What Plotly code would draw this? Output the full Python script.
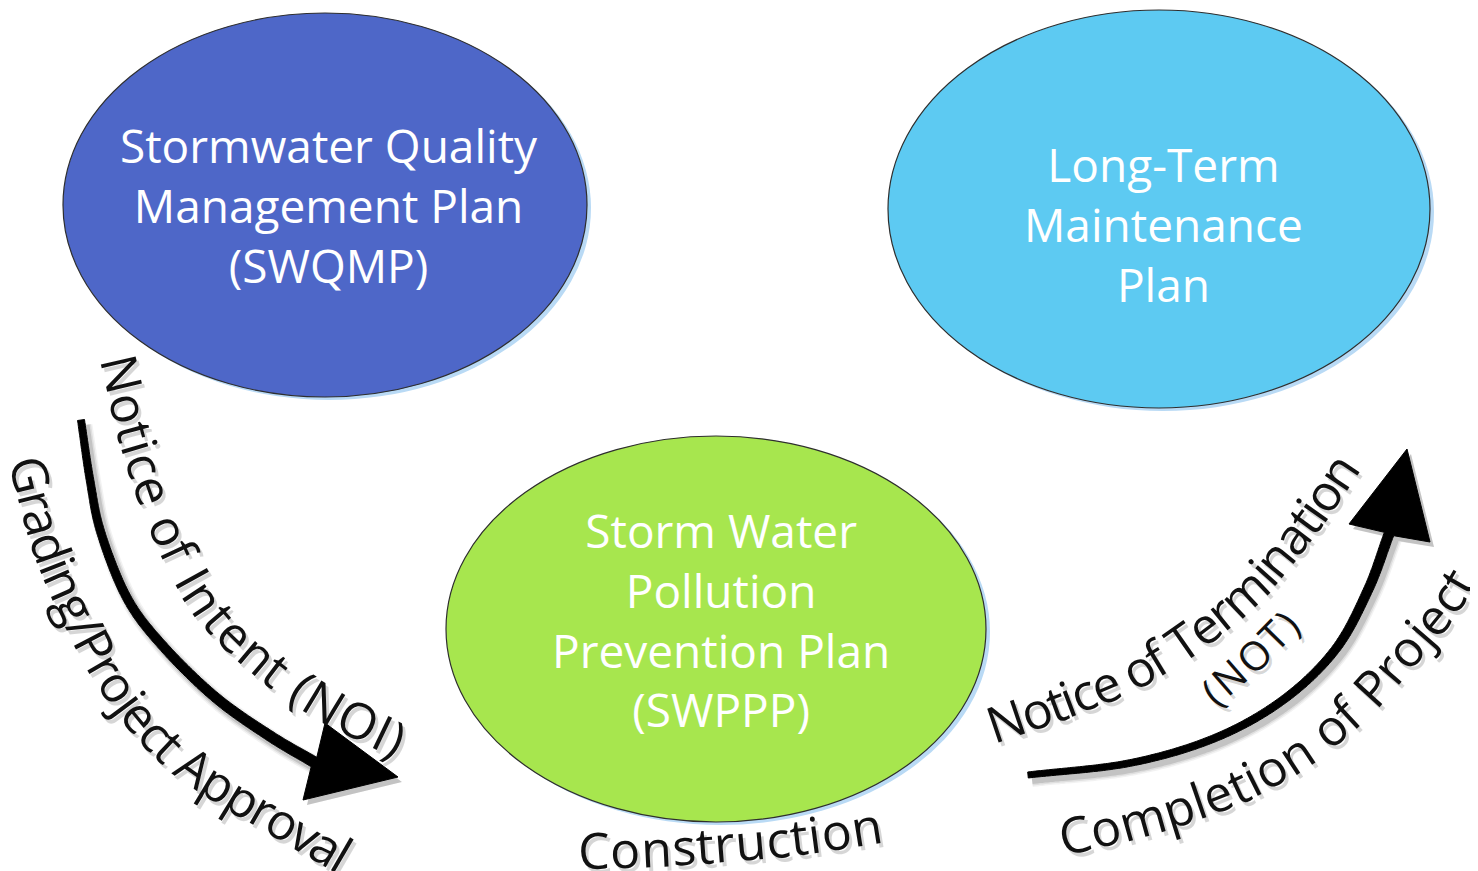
import glob
import math
import os
import struct

import numpy as np
import plotly.graph_objects as go

# ---------------- data (labels / categories) ----------------
plan_labels = [
    "Stormwater Quality<br>Management Plan<br>(SWQMP)",
    "Long-Term<br>Maintenance<br>Plan",
    "Storm Water<br>Pollution<br>Prevention Plan<br>(SWPPP)",
]
plan_colors = ["#4E67C8", "#5DCAF2", "#A7E64E"]

step_labels = [
    "Notice of Intent (NOI)",
    "Grading/Project Approval",
    "Construction",
    "Notice of Termination",
    "(NOT)",
    "Completion of Project",
]

# ---------------- geometry (page pixels) ----------------
W, H = 1478, 871
OFF = 8  # body margin of the html page
plan_centers = [(325, 205), (1159, 209), (716, 629)]
plan_radii = [(262, 192), (271, 199), (270, 193)]
plan_text_pos = [(329, 205), (1163, 224), (721, 619)]

step_paths = [
    [(118, 356), (140, 445), (170, 530), (210, 605), (265, 660), (330, 705), (403, 742)],
    [(27, 457), (49, 540), (79, 612), (122, 690), (176, 752), (240, 795), (300, 830), (348, 858)],
    [(578, 850), (650, 848), (730, 843), (810, 835), (882, 824)],
    [(988, 726), (1060, 701), (1130, 672), (1190, 635), (1250, 585), (1300, 525), (1346, 458)],
    [(1207, 696), (1250, 658), (1291, 617)],
    [(1060, 838), (1148, 816), (1228, 789), (1298, 751), (1357, 702), (1405, 648), (1440, 606), (1461, 572)],
]
step_sizes = [50, 50, 50, 50, 40, 50]

arrow_shafts = [
    [(81, 420), (90, 480), (101, 533), (127, 598), (162, 645), (215, 697), (270, 736), (314, 762)],
    [(1028, 775), (1130, 763), (1215, 738), (1283, 700), (1335, 650), (1368, 590), (1389, 534)],
]
arrow_heads = [
    [(325, 723), (398, 777), (303, 800)],
    [(1349, 524), (1407, 449), (1430, 542)],
]
arrow_width = [(7, 11), (6, 10)]

FONT = "Open Sans"

# ---------------- font metrics (read from installed Open Sans) ----------------
FALLBACK = {
    "N": .748, "o": .602, "t": .361, "i": .258, "c": .479, "e": .561, " ": .26,
    "f": .336, "I": .279, "n": .613, "(": .296, ")": .296, "O": .779, "G": .694,
    "r": .408, "a": .556, "d": .613, "g": .546, "/": .369, "P": .603, "j": .258,
    "A": .633, "p": .613, "v": .500, "l": .258, "C": .631, "s": .477, "u": .613,
    "T": .553, "m": .933, "M": .907,
}


def load_advance():
    cands = []
    for root in ["/usr/share/fonts", "/usr/local/share/fonts", os.path.expanduser("~/.fonts")]:
        cands += glob.glob(os.path.join(root, "**", "*.ttf"), recursive=True)
    cands = [c for c in cands if "opensans" in os.path.basename(c).lower().replace("-", "").replace("_", "")]
    cands.sort(key=lambda p: (("italic" in p.lower()), ("regular" not in p.lower())))
    for path in cands:
        try:
            data = open(path, "rb").read()
            nt = struct.unpack(">H", data[4:6])[0]
            tabs = {}
            for i in range(nt):
                tag, _, off, _ = struct.unpack(">4sIII", data[12 + 16 * i:28 + 16 * i])
                tabs[tag.decode("latin1")] = off
            upem = struct.unpack(">H", data[tabs["head"] + 18:tabs["head"] + 20])[0]
            nhm = struct.unpack(">H", data[tabs["hhea"] + 34:tabs["hhea"] + 36])[0]
            hmtx = tabs["hmtx"]
            cm = tabs["cmap"]
            nsub = struct.unpack(">H", data[cm + 2:cm + 4])[0]
            sub = None
            for i in range(nsub):
                pid, eid, off = struct.unpack(">HHI", data[cm + 4 + 8 * i:cm + 12 + 8 * i])
                if struct.unpack(">H", data[cm + off:cm + off + 2])[0] == 4:
                    sub = cm + off
                    break
            segx2 = struct.unpack(">H", data[sub + 6:sub + 8])[0]
            seg = segx2 // 2
            ends = struct.unpack(">%dH" % seg, data[sub + 14:sub + 14 + segx2])
            starts = struct.unpack(">%dH" % seg, data[sub + 16 + segx2:sub + 16 + 2 * segx2])
            deltas = struct.unpack(">%dh" % seg, data[sub + 16 + 2 * segx2:sub + 16 + 3 * segx2])
            rpos = sub + 16 + 3 * segx2
            roffs = struct.unpack(">%dH" % seg, data[rpos:rpos + segx2])

            def gid(c):
                for i in range(seg):
                    if ends[i] >= c:
                        if starts[i] > c:
                            return 0
                        if roffs[i] == 0:
                            return (c + deltas[i]) & 0xFFFF
                        a = rpos + 2 * i + roffs[i] + 2 * (c - starts[i])
                        g = struct.unpack(">H", data[a:a + 2])[0]
                        return (g + deltas[i]) & 0xFFFF if g else 0
                return 0

            def adv(ch):
                g = min(gid(ord(ch)), nhm - 1)
                return struct.unpack(">H", data[hmtx + 4 * g:hmtx + 4 * g + 2])[0] / upem

            if adv("m") > 0.5:
                return adv
        except Exception:
            continue
    return lambda ch: FALLBACK.get(ch, 0.56)


advance = load_advance()


# ---------------- helpers ----------------
def catmull(points, n=40):
    P = np.array(points, float)
    P = np.vstack([2 * P[0] - P[1], P, 2 * P[-1] - P[-2]])
    out = []
    t = np.linspace(0, 1, n, endpoint=False)[:, None]
    for i in range(1, len(P) - 2):
        p0, p1, p2, p3 = P[i - 1], P[i], P[i + 1], P[i + 2]
        out.append(0.5 * ((2 * p1) + (-p0 + p2) * t + (2 * p0 - 5 * p1 + 4 * p2 - p3) * t ** 2
                          + (-p0 + 3 * p1 - 3 * p2 + p3) * t ** 3))
    out.append(P[-2][None])
    return np.vstack(out)


def point_at(curve, d, s):
    return np.interp(s, d, curve[:, 0]), np.interp(s, d, curve[:, 1])


def curved_text(text, pts, size, color, dx=0.0, dy=0.0):
    """Place each glyph along the curve, tracking so the text spans the whole path."""
    curve = catmull(pts)
    d = np.r_[0, np.cumsum(np.hypot(*np.diff(curve, axis=0).T))]
    widths = [advance(c) * size for c in text]
    track = (d[-1] - sum(widths)) / max(len(text) - 1, 1)
    cum = 0.0
    anns = []
    for ch, w in zip(text, widths):
        s = cum + w / 2
        x, y = point_at(curve, d, s)
        xa, ya = point_at(curve, d, max(s - 4, 0))
        xb, yb = point_at(curve, d, min(s + 4, d[-1]))
        ang = math.degrees(math.atan2(yb - ya, xb - xa))
        if ch != " ":
            anns.append(dict(x=x + dx, y=y + dy, xref="x", yref="y", text=ch, showarrow=False,
                             textangle=ang, xanchor="center", yanchor="middle",
                             font=dict(family=FONT, size=size, color=color)))
        cum += w + track
    return anns


def arrow_path(shaft, head, w0, w1, dx=0.0, dy=0.0, grow=0.0):
    c = catmull(shaft)
    tang = np.gradient(c, axis=0)
    tang /= np.hypot(tang[:, 0], tang[:, 1])[:, None]
    nrm = np.c_[-tang[:, 1], tang[:, 0]]
    w = (np.linspace(w0, w1, len(c))[:, None] + grow) / 2
    left = c + nrm * w
    right = c - nrm * w
    h = np.array(head, float)
    if np.dot(h[0] - c[-1], nrm[-1]) < 0:
        h = h[::-1]
    pts = list(left) + list(h) + list(right[::-1])
    return "M " + " L ".join(f"{p[0] + dx:.1f},{p[1] + dy:.1f}" for p in pts) + " Z"


# ---------------- figure ----------------
fig = go.Figure()
shapes = []

for (cx, cy), (rx, ry), col in zip(plan_centers, plan_radii, plan_colors):
    shapes.append(dict(type="circle", xref="x", yref="y", x0=cx - rx + 4, x1=cx + rx + 4,
                       y0=cy - ry + 3, y1=cy + ry + 3, fillcolor="#B9DAF5",
                       line=dict(width=0), layer="below"))
    shapes.append(dict(type="circle", xref="x", yref="y", x0=cx - rx, x1=cx + rx,
                       y0=cy - ry, y1=cy + ry, fillcolor=col,
                       line=dict(color="#2E2E2E", width=1.2), layer="below"))

for shaft, head, (w0, w1) in zip(arrow_shafts, arrow_heads, arrow_width):
    for k, a in [(8, 0.05), (5, 0.08), (2, 0.12)]:
        shapes.append(dict(type="path", xref="x", yref="y",
                           path=arrow_path(shaft, head, w0, w1, dx=4, dy=5, grow=k),
                           fillcolor=f"rgba(0,0,0,{a})", line=dict(width=0), layer="below"))
    shapes.append(dict(type="path", xref="x", yref="y",
                       path=arrow_path(shaft, head, w0, w1),
                       fillcolor="#000000", line=dict(color="#000000", width=1), layer="above"))

annotations = []
for label, (tx, ty) in zip(plan_labels, plan_text_pos):
    annotations.append(dict(x=tx, y=ty, xref="x", yref="y", text=label, showarrow=False,
                            xanchor="center", yanchor="middle", align="center",
                            font=dict(family=FONT, size=46, color="white")))

for label, pts, size in zip(step_labels, step_paths, step_sizes):
    annotations += curved_text(label, pts, size, "rgba(0,0,0,0.16)", dx=3, dy=4)
for label, pts, size in zip(step_labels, step_paths, step_sizes):
    annotations += curved_text(label, pts, size, "#111111")

# the page body has an 8px margin: size the plot so that it fits the window exactly
fig.update_layout(
    width=W - OFF, height=H - OFF,
    margin=dict(l=0, r=0, t=0, b=0),
    paper_bgcolor="white", plot_bgcolor="white",
    xaxis=dict(range=[OFF, W], visible=False, fixedrange=True),
    yaxis=dict(range=[H, OFF], visible=False, fixedrange=True),
    shapes=shapes,
    annotations=annotations,
    showlegend=False,
)

fig.write_html("out.html")
